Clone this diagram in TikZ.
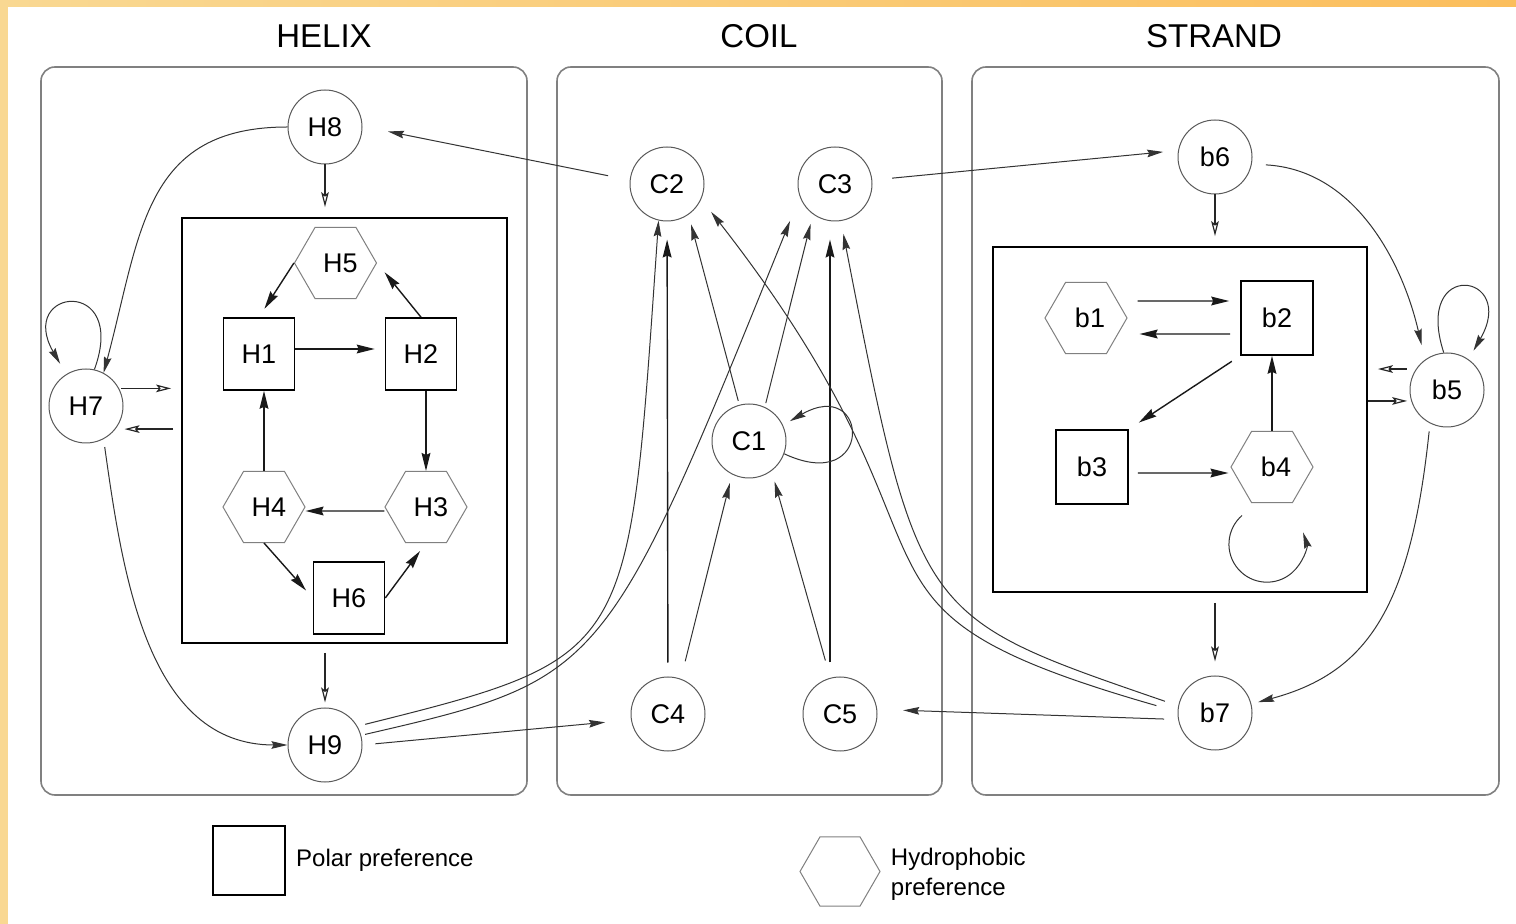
\documentclass[tikz,border=0pt]{standalone}
\usepackage{fontspec}
\setmainfont{Liberation Sans}
\usetikzlibrary{positioning,shapes.geometric,arrows.meta}
\definecolor{woodlight}{HTML}{F9D892}
\definecolor{woodorange}{HTML}{FBBE5C}

\begin{document}
\begin{tikzpicture}[x=0.5pt, y=-0.5pt,
  every node/.style={inner sep=0pt, font=\fontsize{13.5}{16}\selectfont},
  panel/.style={draw=black!50, line width=0.8pt, rounded corners=7pt, minimum height=364pt},
  heading/.style={font=\fontsize{16.5}{20}\selectfont},
  innerbox/.style={draw, line width=0.9pt},
  site/.style={circle, draw=black!65, line width=0.5pt, minimum size=37pt},
  polar/.style={rectangle, draw, line width=0.8pt, minimum width=35.5pt, minimum height=36pt},
  phobic/.style={regular polygon, regular polygon sides=6, draw=black!50, line width=0.5pt, minimum size=41pt},
  arr/.style={draw=black!90, line width=0.7pt, -{Stealth[length=9pt,width=4.4pt,inset=1pt]}},
  longarr/.style={draw=black!80, line width=0.5pt, -{Stealth[length=8pt,width=3.8pt,inset=1pt]}},
  hollow/.style={draw=black!85, line width=0.6pt, -{Stealth[open,length=7.5pt,width=3.8pt,inset=1.5pt]}},
  legendtext/.style={font=\fontsize{12}{15}\selectfont, align=left}
  ]
  \useasboundingbox (0,0) rectangle (1516,924);
  \fill[woodlight] (0,0) rectangle (1516,924);
  \shade[left color=woodlight, right color=woodorange] (0,0) rectangle (1516,7);
  \fill[white] (8,7) rectangle (1516,924);

  % panels
  \node[panel, minimum width=243pt] (hpanel) at (284,431) {};
  \node[panel, minimum width=192.5pt] (cpanel) at (749.5,431) {};
  \node[panel, minimum width=263.5pt] (spanel) at (1235.5,431) {};
  \node[heading] (thelix) at (324,36) {HELIX};
  \node[heading] (tcoil) at (759,36) {COIL};
  \node[heading] (tstrand) at (1214,36) {STRAND};

  % helix
  \node[innerbox, minimum width=162.5pt, minimum height=212.5pt] (hbox) at (344.5,430.5) {};
  \node[site] (H8) at (325,127) {H8};
  \node[site] (H7) at (86,406) {H7};
  \node[site] (H9) at (325,745) {H9};
  \node[phobic] (H5) at (335.5,263) {\hspace*{5pt}H5};
  \node[polar] (H1) at (259,354) {H1};
  \node[polar] (H2) at (421,354) {H2};
  \node[phobic] (H4) at (264,507) {\hspace*{5pt}H4};
  \node[phobic] (H3) at (426,507) {\hspace*{5pt}H3};
  \node[polar] (H6) at (349,598) {H6};

  % coil
  \node[site] (C2) at (667,184) {C2};
  \node[site] (C3) at (835,184) {C3};
  \node[site] (C1) at (749,441) {C1};
  \node[site] (C4) at (668,714) {C4};
  \node[site] (C5) at (840,714) {C5};

  % strand
  \node[innerbox, minimum width=187pt, minimum height=172.5pt] (sbox) at (1180,419.5) {};
  \node[site] (b6) at (1215,157) {b6};
  \node[site] (b5) at (1447,390) {b5};
  \node[site] (b7) at (1215,713) {b7};
  \node[phobic] (b1) at (1086,318) {\hspace*{4pt}b1};
  \node[polar, minimum width=36pt, minimum height=37pt] (b2) at (1277,318) {b2};
  \node[polar, minimum width=36pt, minimum height=37pt] (b3) at (1092,467) {b3};
  \node[phobic] (b4) at (1272,467) {\hspace*{4pt}b4};

  % legend
  \node[polar, minimum width=36pt, minimum height=34.5pt] (keypolar) at (249,860.5) {};
  \node[legendtext, right=5pt of keypolar] (keypolartext) {Polar preference};
  \node[phobic, minimum size=40pt] (keyphobic) at (840,871.5) {};
  \node[legendtext, right=5pt of keyphobic, yshift=-1.5pt] (keyphobictext) {Hydrophobic\\preference};

  % helix connectors
  \draw[hollow, shorten >=5pt] (H8) -- (H8 |- hbox.north);
  \draw[hollow, shorten <=4.5pt, shorten >=2.5pt] (H9 |- hbox.south) -- (H9);
  \draw[hollow, shorten <=1pt, shorten >=5pt] (H7.28) -- (H7.28 -| hbox.west);
  \draw[hollow, shorten <=4pt, shorten >=4.5pt] (H7.-38 -| hbox.west) -- (H7.-38);
  \draw[longarr] (H8.west) to[out=180, in=75, looseness=1.2] (H7.62);
  \draw[longarr, shorten >=6pt] (H7.77) .. controls +(70:50pt) and +(120:50pt) .. (H7.122);
  \draw[longarr, shorten <=4pt] (H7.-62) to[out=-82, in=180] (H9.west);
  \draw[arr, shorten >=5pt] (H5.west) -- (H1.north);
  \draw[arr, shorten >=6pt] (H2.north) -- (H5.east);
  \draw[arr, shorten >=5pt] ([yshift=2.5pt]H1.east) -- ([yshift=2.5pt]H2.west);
  \draw[arr] (H3.north |- H2.south) -- (H3.north);
  \draw[arr] ([yshift=-2pt]H3.west) -- ([yshift=-2pt]H4.east);
  \draw[arr] (H4.north) -- (H4.north |- H1.south);
  \draw[arr, shorten >=5pt] (H4.south) -- (H6.west);
  \draw[arr, shorten >=5pt] (H6.east) -- (H3.south);

  % coil connectors
  \draw[longarr, shorten <=11pt, shorten >=13pt] (C2.174) -- (H8.1);
  \draw[longarr, shorten <=10pt, shorten >=7.5pt] (C3.6) -- (b6.170);
  \draw[longarr, shorten <=6.5pt, shorten >=13pt] (H9.east) -- (C4.189);
  \draw[longarr, shorten <=7pt, shorten >=13pt] (b7.190) -- (C5.7);
  \draw[arr, shorten <=7pt, shorten >=9pt] (C4) -- (C2);
  \draw[arr, shorten <=7pt, shorten >=9pt] ([xshift=-5pt]C5.north) -- ([xshift=-2.5pt]C3.south);
  \draw[longarr, shorten <=9pt, shorten >=4.5pt] (C4.70) -- (C1.-117);
  \draw[longarr, shorten <=9pt, shorten >=5.5pt] (C5.105) -- (C1.-53);
  \draw[longarr, shorten <=2pt, shorten >=5pt] (C1.105) -- (C2.-55);
  \draw[longarr, shorten <=2pt, shorten >=5pt] (C1.65) -- (C3.-126);
  \draw[longarr, shorten >=4pt] (C1.-20) .. controls +(-25:50pt) and +(30:50pt) .. (C1.25);
  \draw[longarr, shorten <=4pt] (H9.30) .. controls +(14:144pt) and +(-94:218pt) .. (C2.-103);
  \draw[longarr, shorten <=2pt, shorten >=13pt] (H9.15) .. controls +(13:124pt) and +(-112:259pt) .. (C3.200);
  \draw[longarr, shorten <=7pt, shorten >=6.5pt] (b7.169) .. controls +(161:137pt) and +(-79:203pt) .. (C3.-81);
  \draw[longarr, shorten <=11pt, shorten >=8pt] (b7.178) .. controls +(164:195pt) and +(-52:235pt) .. (C2.-24);

  % strand connectors
  \draw[hollow, shorten >=5pt] (b6) -- (b6 |- sbox.north);
  \draw[hollow, shorten <=5pt, shorten >=7pt] (b7 |- sbox.south) -- (b7);
  \draw[hollow, shorten <=4.5pt, shorten >=5pt] (b5.146) -- (b5.146 -| sbox.east);
  \draw[hollow, shorten >=2pt] (b5.197 -| sbox.east) -- (b5.197);
  \draw[longarr, shorten <=7pt, shorten >=7.5pt] (b6.-11) to[out=-3, in=103] (b5.126);
  \draw[longarr, shorten <=4pt, shorten >=3.5pt] (b5.-117) .. controls +(-96:93pt) and +(15:60pt) .. (b7.14);
  \draw[longarr, shorten >=5pt] (b5.95) .. controls +(108:50pt) and +(60:50pt) .. (b5.55);
  \draw[arr, shorten <=5pt, shorten >=5.5pt] ([yshift=8.5pt]b1.east) -- ([yshift=8.5pt]b2.west);
  \draw[arr, shorten <=5pt, shorten >=6pt] ([yshift=-8pt]b2.west) -- ([yshift=-8pt]b1.east);
  \draw[arr, shorten <=5pt, shorten >=6pt] (b2.south west) -- (b3.north east);
  \draw[arr, shorten <=4.5pt, shorten >=1pt] ([yshift=-3pt]b3.east) -- ([yshift=-3pt]b4.west);
  \draw[arr] (b4.north) -- (b4.north |- b2.south);
  \draw[longarr] ([shift={(-15pt,-6.25pt)}]b4.south) arc[start angle=131, end angle=378, radius=19pt];
\end{tikzpicture}
\end{document}
